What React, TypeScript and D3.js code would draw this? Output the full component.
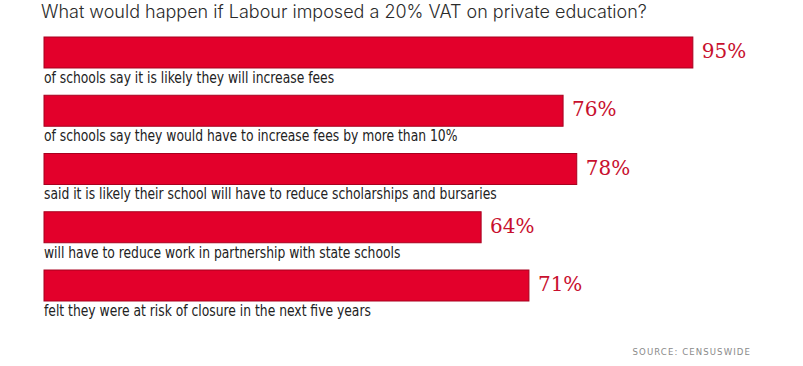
import React, { useEffect, useRef } from "react";
import * as d3 from "d3";

const title = "What would happen if Labour imposed a 20% VAT on private education?";
const categories = [
  "of schools say it is likely they will increase fees",
  "of schools say they would have to increase fees by more than 10%",
  "said it is likely their school will have to reduce scholarships and bursaries",
  "will have to reduce work in partnership with state schools",
  "felt they were at risk of closure in the next five years",
];
const values = [95, 76, 78, 64, 71];
const source = "SOURCE: CENSUSWIDE";

const width = 803;
const height = 366;
const squeeze = 0.915; // label font is condensed in the original

function drawChart(svgEl: SVGSVGElement) {
  const svg = d3.select(svgEl);
  svg.selectAll("*").remove();

  const data = categories.map((c, i) => ({ label: c, value: values[i] }));

  // x: percent to pixels
  const x = d3.scaleLinear().domain([0, 100]).range([44, 727]);
  // y: one band per row, bar and its caption underneath
  const y = d3
    .scaleBand()
    .domain(categories)
    .range([37, 301])
    .paddingInner(0.468)
    .paddingOuter(0);

  svg
    .append("text")
    .attr("x", 41)
    .attr("y", 18)
    .attr("font-family", "Inter, 'Noto Sans', sans-serif")
    .attr("font-weight", 300)
    .attr("font-size", 18)
    .attr("fill", "#2b2b2b")
    .text(title);

  const rows = svg
    .selectAll("g.row")
    .data(data)
    .enter()
    .append("g")
    .attr("class", "row");

  rows
    .append("rect")
    .attr("x", x(0))
    .attr("y", (d) => y(d.label)!)
    .attr("width", (d) => x(d.value) - x(0))
    .attr("height", y.bandwidth())
    .attr("fill", "#e3002b")
    .attr("stroke", "#a8001f")
    .attr("stroke-width", 1);

  rows
    .append("text")
    .attr("x", (d) => x(d.value) + 9)
    .attr("y", (d) => y(d.label)! + 21)
    .attr("font-family", "'DejaVu Serif', 'Liberation Serif', serif")
    .attr("font-size", 20)
    .attr("fill", "#c8102e")
    .text((d) => `${d.value}%`);

  rows
    .append("text")
    .attr("transform", `scale(${squeeze},1)`)
    .attr("x", x(0) / squeeze)
    .attr("y", (d) => y(d.label)! + y.bandwidth() + 15)
    .attr("font-family", "'DejaVu Sans Condensed', sans-serif")
    .attr("font-stretch", "condensed")
    .attr("font-size", 15)
    .attr("fill", "#222")
    .text((d) => d.label);

  svg
    .append("text")
    .attr("x", 751)
    .attr("y", 355)
    .attr("text-anchor", "end")
    .attr("font-family", "'DejaVu Sans Condensed', sans-serif")
    .attr("font-stretch", "condensed")
    .attr("font-size", 9.5)
    .attr("letter-spacing", 1.1)
    .attr("fill", "#8a8a8a")
    .text(source);
}

export default function App() {
  const svgRef = useRef<SVGSVGElement>(null);

  useEffect(() => {
    if (svgRef.current) drawChart(svgRef.current);
  }, []);

  return (
    <svg
      ref={svgRef}
      width={width}
      height={height}
      style={{ position: "absolute", left: 0, top: 0, background: "#fff" }}
    />
  );
}
